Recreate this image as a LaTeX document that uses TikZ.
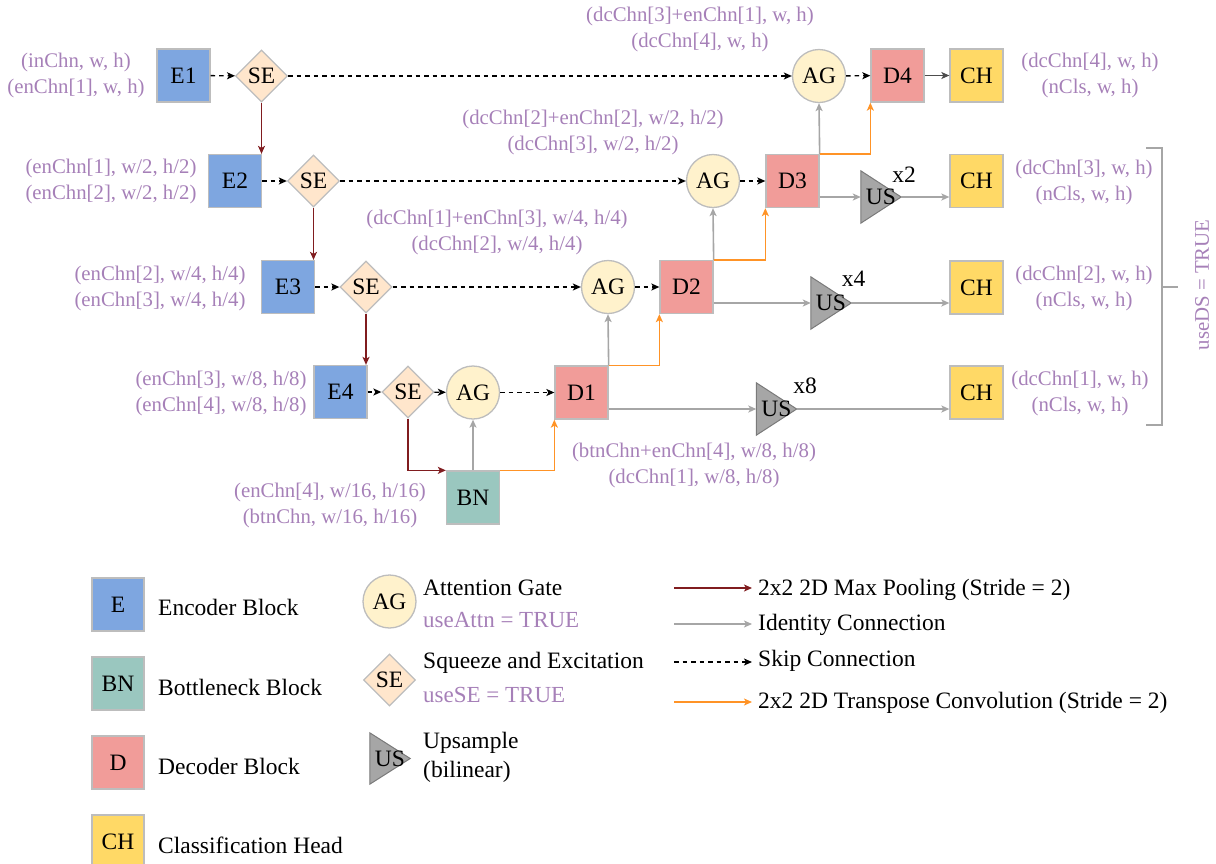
\documentclass[tikz,border=0pt]{standalone}
\usepackage{fontspec}
\setmainfont{Liberation Serif}
\usetikzlibrary{shapes.geometric,arrows.meta,calc}

\definecolor{encblue}{HTML}{7EA6E0}
\definecolor{bnteal}{HTML}{9AC7BF}
\definecolor{decpink}{HTML}{F19C99}
\definecolor{chyellow}{HTML}{FFD966}
\definecolor{agfill}{HTML}{FFF2CC}
\definecolor{sefill}{HTML}{FFE6CC}
\definecolor{usgray}{HTML}{A6A6A6}
\definecolor{usedge}{HTML}{7A7A7A}
\definecolor{edgegray}{HTML}{BDBDBD}
\definecolor{labpurple}{HTML}{A680B8}
\definecolor{poolred}{HTML}{801C1F}
\definecolor{idgray}{HTML}{A6A6A6}
\definecolor{tconvorange}{HTML}{FF9326}
\definecolor{linkdark}{HTML}{4D4D4D}

\newcommand\blkfont{\fontsize{23.5}{28}\selectfont}
\newcommand\lblfont{\fontsize{20.8}{26}\selectfont}
\newcommand\legfont{\fontsize{23.5}{28}\selectfont}
\newcommand\legpfont{\fontsize{23}{28}\selectfont}

\begin{document}
\begin{tikzpicture}[x=1pt,y=-1pt,
  tip/.style={-{Stealth[length=8pt,width=7pt,inset=2pt]}},
  blk/.style={rectangle, draw=edgegray, line width=1.3pt, minimum width=53pt,
    minimum height=53pt, inner sep=0pt, font=\blkfont},
  enc/.style={blk, fill=encblue},
  bnk/.style={blk, fill=bnteal},
  dec/.style={blk, fill=decpink},
  chd/.style={blk, fill=chyellow},
  ag/.style={circle, draw=edgegray, fill=agfill, line width=1.3pt,
    minimum size=53pt, inner sep=0pt, font=\blkfont},
  se/.style={diamond, draw=edgegray, fill=sefill, line width=1.3pt,
    minimum width=52pt, minimum height=52pt, inner sep=0pt, font=\blkfont},
  usbox/.style={rectangle, minimum width=40pt, minimum height=52pt, inner sep=0pt},
  usshape/.style={draw=usedge, fill=usgray, line width=1pt, line join=miter},
  ustext/.style={font=\blkfont, inner sep=0pt},
  factor/.style={font=\blkfont, inner sep=0pt},
  lbl/.style={text=labpurple, align=center, font=\lblfont, inner sep=0pt},
  legtxt/.style={anchor=west, font=\legfont, inner sep=0pt},
  legp/.style={anchor=west, font=\legpfont, text=labpurple, inner sep=0pt},
  pool/.style={tip, draw=poolred, line width=1.6pt},
  ident/.style={tip, draw=idgray, line width=1.6pt},
  skip/.style={tip, draw=black, line width=1.4pt, dash pattern=on 4.5pt off 4pt},
  tconv/.style={tip, draw=tconvorange, line width=1.6pt},
  headlink/.style={tip, draw=linkdark, line width=1.3pt},
  bracket/.style={draw=idgray, line width=1.6pt}
]
\useasboundingbox (0,0) rectangle (1216,863);

% ---------------- encoder path ----------------
\node[enc] (E1) at (183.5,75.5) {E1};
\node[se]  (SE1) at (261.5,76) {SE};
\node[enc] (E2) at (235,181) {E2};
\node[se]  (SE2) at (313.5,181) {SE};
\node[enc] (E3) at (288,287) {E3};
\node[se]  (SE3) at (366,287) {SE};
\node[enc] (E4) at (340.5,392) {E4};
\node[se]  (SE4) at (408,392) {SE};
\node[bnk] (BN) at (473,497.5) {BN};

% ---------------- decoder path ----------------
\node[ag]  (AG1) at (473,392.5) {AG};
\node[dec] (D1) at (581.5,392.5) {D1};
\node[ag]  (AG2) at (608,287) {AG};
\node[dec] (D2) at (686.5,287) {D2};
\node[ag]  (AG3) at (713,181) {AG};
\node[dec] (D3) at (792.5,181) {D3};
\node[ag]  (AG4) at (819,76) {AG};
\node[dec] (D4) at (897.5,75.5) {D4};

% ---------------- heads ----------------
\node[chd] (CH1) at (976.5,75.5) {CH};
\node[chd] (CH2) at (976.5,181) {CH};
\node[chd] (CH3) at (976.5,287.5) {CH};
\node[chd] (CH4) at (976.5,392.5) {CH};

% ---------------- upsampling ----------------
\node[usbox] (US2) at (881,197) {};
\draw[usshape] (US2.north west) -- (US2.east) -- (US2.south west) -- cycle;
\node[ustext] at (US2) {US};
\node[factor] (X2) at (904,175) {x2};

\node[usbox] (US3) at (831,303) {};
\draw[usshape] (US3.north west) -- (US3.east) -- (US3.south west) -- cycle;
\node[ustext] at (US3) {US};
\node[factor] (X4) at (853.5,279) {x4};

\node[usbox] (US4) at (776.5,409) {};
\draw[usshape] (US4.north west) -- (US4.east) -- (US4.south west) -- cycle;
\node[ustext] at (US4) {US};
\node[factor] (X8) at (805,386) {x8};

% ---------------- tensor shapes ----------------
\node[lbl] (l1) at (76,75) {(inChn, w, h)\\(enChn[1], w, h)};
\node[lbl] (l2) at (111,181.5) {(enChn[1], w/2, h/2)\\(enChn[2], w/2, h/2)};
\node[lbl] (l3) at (160,288) {(enChn[2], w/4, h/4)\\(enChn[3], w/4, h/4)};
\node[lbl] (l4) at (221,393) {(enChn[3], w/8, h/8)\\(enChn[4], w/8, h/8)};
\node[lbl] (lbn) at (330,505.5) {(enChn[4], w/16, h/16)\\(btnChn, w/16, h/16)};
\node[lbl] (ld1) at (694,465.5) {(btnChn+enChn[4], w/8, h/8)\\(dcChn[1], w/8, h/8)};
\node[lbl] (ld2) at (497,232.5) {(dcChn[1]+enChn[3], w/4, h/4)\\(dcChn[2], w/4, h/4)};
\node[lbl] (ld3) at (593,132.5) {(dcChn[2]+enChn[2], w/2, h/2)\\(dcChn[3], w/2, h/2)};
\node[lbl] (ld4) at (700,29) {(dcChn[3]+enChn[1], w, h)\\(dcChn[4], w, h)};
\node[lbl] (lc1) at (1090,75) {(dcChn[4], w, h)\\(nCls, w, h)};
\node[lbl] (lc2) at (1084,182.5) {(dcChn[3], w, h)\\(nCls, w, h)};
\node[lbl] (lc3) at (1084,288) {(dcChn[2], w, h)\\(nCls, w, h)};
\node[lbl] (lc4) at (1080,393.5) {(dcChn[1], w, h)\\(nCls, w, h)};

% deep supervision bracket
\draw[bracket] (1146,148) -- (1162,148) -- (1162,425) -- (1146,425);
\draw[bracket] (1162,287) -- (1178,287);
\node[lbl, rotate=90] (ds) at (1202,285) {useDS = TRUE};

% ---------------- connectors ----------------
% skip connections
\draw[skip] (E1) -- (SE1);
\draw[skip] (SE1) -- (AG4);
\draw[skip] (AG4) -- (D4);
\draw[skip] (E2) -- (SE2);
\draw[skip] (SE2) -- (AG3);
\draw[skip] (AG3) -- (D3);
\draw[skip] (E3) -- (SE3);
\draw[skip] (SE3) -- (AG2);
\draw[skip] (AG2) -- (D2);
\draw[skip] (E4) -- (SE4);
\draw[skip] (SE4) -- (AG1);
\draw[skip] (AG1) -- (D1);

% max pooling
\draw[pool] (SE1.south) -- (SE1.south |- E2.north);
\draw[pool] (SE2.south) -- (SE2.south |- E3.north);
\draw[pool] (SE3.south) -- (SE3.south |- E4.north);
\draw[pool] (SE4.south) |- (BN.north west);

% identity connections into the attention gates
\draw[ident] (BN.north) -- (AG1.south);
\draw[ident] (D1.north east) -- (AG2.south);
\draw[ident] (D2.north east) -- (AG3.south);
\draw[ident] (D3.north east) -- (AG4.south);

% transpose convolutions
\draw[tconv] (BN.north east) -| (D1.south west);
\draw[tconv] (D1.north east) -| (D2.south west);
\draw[tconv] (D2.north east) -| (D3.south west);
\draw[tconv] (D3.north east) -| (D4.south west);

% deep supervision outputs
\draw[ident] (D1.east |- US4.west) -- (US4.west);
\draw[ident] (US4.east) -- (US4.east -| CH4.west);
\draw[ident] (D2.east |- US3.west) -- (US3.west);
\draw[ident] (US3.east) -- (US3.east -| CH3.west);
\draw[ident] (D3.east |- US2.west) -- (US2.west);
\draw[ident] (US2.east) -- (US2.east -| CH2.west);
\draw[headlink] (D4) -- (CH1);

% ---------------- legend ----------------
\node[enc, minimum width=52pt, minimum height=53pt] (kE) at (118,604.5) {E};
\node[legtxt] (kEt) at (158,607) {Encoder Block};
\node[bnk, minimum width=52pt] (kBN) at (118,683.5) {BN};
\node[legtxt] (kBNt) at (158,687) {Bottleneck Block};
\node[dec, minimum width=52pt] (kD) at (118,762.5) {D};
\node[legtxt] (kDt) at (158,766) {Decoder Block};
\node[chd, minimum width=52pt] (kCH) at (118,841.5) {CH};
\node[legtxt] (kCHt) at (158,845) {Classification Head};

\node[ag] (kAG) at (389.5,601.5) {AG};
\node[legtxt] (kAGt) at (423,588) {Attention Gate};
\node[legp] (kAGp) at (423,620) {useAttn = TRUE};
\node[se] (kSE) at (389.5,680) {SE};
\node[legtxt] (kSEt) at (423,663) {Squeeze and Excitation};
\node[legp] (kSEp) at (423,695) {useSE = TRUE};
\node[usbox, minimum height=51pt] (kUS) at (390,758.5) {};
\draw[usshape] (kUS.north west) -- (kUS.east) -- (kUS.south west) -- cycle;
\node[ustext] at (kUS) {US};
\node[legtxt] (kUSt) at (423,743) {Upsample};
\node[legtxt] (kUSb) at (423,772) {(bilinear)};

\coordinate (kp0) at (674,588);  \coordinate (kp1) at (752,588);
\coordinate (ki0) at (674,624);  \coordinate (ki1) at (752,624);
\coordinate (ks0) at (674,662);  \coordinate (ks1) at (752,662);
\coordinate (kt0) at (674,702);  \coordinate (kt1) at (752,702);
\draw[pool] (kp0) -- (kp1);
\draw[ident] (ki0) -- (ki1);
\draw[skip] (ks0) -- (ks1);
\draw[tconv] (kt0) -- (kt1);
\node[legtxt] (kpt) at (758,590) {2x2 2D Max Pooling (Stride = 2)};
\node[legtxt] (kit) at (758,625) {Identity Connection};
\node[legtxt] (kst) at (758,661) {Skip Connection};
\node[legtxt] (ktt) at (758,703) {2x2 2D Transpose Convolution (Stride = 2)};
\end{tikzpicture}
\end{document}
